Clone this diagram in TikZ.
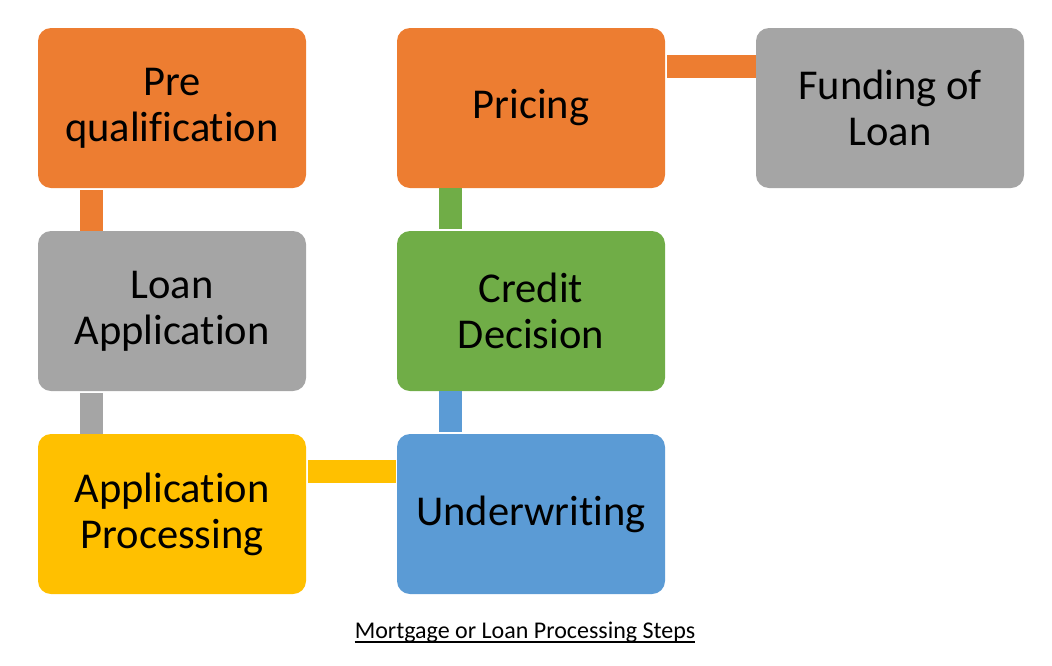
\documentclass[tikz,border=0pt]{standalone}
\usepackage{fontspec}
\setmainfont[Ligatures={NoCommon}]{Carlito}
\definecolor{cOrange}{HTML}{ED7D31}
\definecolor{cGray}{HTML}{A5A5A5}
\definecolor{cYellow}{HTML}{FFC000}
\definecolor{cBlue}{HTML}{5B9BD5}
\definecolor{cGreen}{HTML}{70AD47}
\begin{document}
\begin{tikzpicture}[x=1pt,y=-1pt,
  stepbox/.style={rounded corners=13pt, minimum width=268pt, minimum height=160pt,
    inner sep=0pt, align=center, text=black,
    font=\fontsize{42.5}{46}\selectfont},
  link/.style={line width=23pt}]
\useasboundingbox (0,0) rectangle (1052,665);
\node[stepbox, fill=cOrange] (pre)  at (172,108) {Pre\\qualification};
\node[stepbox, fill=cGray]   (loan) at (172,311) {Loan\\Application};
\node[stepbox, fill=cYellow] (proc) at (172,514) {Application\\Processing};
\node[stepbox, fill=cBlue]   (uw)   at (531,514) {Underwriting};
\node[stepbox, fill=cGreen]  (cred) at (531,311) {Credit\\Decision};
\node[stepbox, fill=cOrange] (pric) at (531,108) {Pricing};
\node[stepbox, fill=cGray]   (fund) at (890,108) {Funding of\\Loan};
\draw[link, cOrange, shorten <=2pt] ([xshift=-81pt]pre.south) -- ([xshift=-81pt]loan.north);
\draw[link, cGray, shorten <=2pt] ([xshift=-81pt]loan.south) -- ([xshift=-81pt]proc.north);
\draw[link, cYellow, shorten <=2pt, shorten >=1pt] ([yshift=42.5pt]proc.east) -- ([yshift=42.5pt]uw.west);
\draw[link, cBlue, shorten <=2pt] ([xshift=-81pt]uw.north) -- ([xshift=-81pt]cred.south);
\draw[link, cGreen, shorten <=2pt] ([xshift=-81pt]cred.north) -- ([xshift=-81pt]pric.south);
\draw[link, cOrange, shorten <=2pt] ([yshift=41.5pt]pric.east) -- ([yshift=41.5pt]fund.west);
\node[font=\fontsize{24}{28}\selectfont, inner sep=0pt, anchor=base] (cap) at (525,638) {Mortgage or Loan Processing Steps};
\draw[line width=1.8pt] ([yshift=-4pt]cap.base west) -- ([yshift=-4pt]cap.base east);
\end{tikzpicture}
\end{document}
